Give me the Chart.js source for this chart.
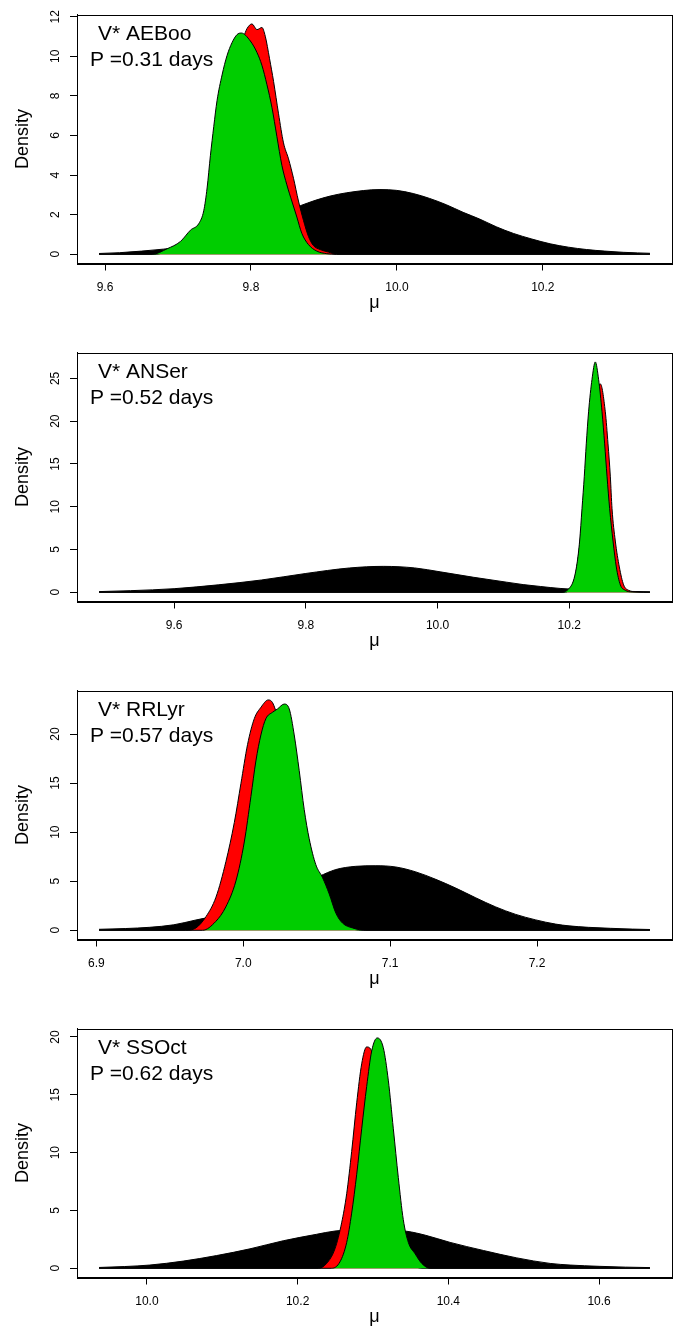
<!DOCTYPE html>
<html>
<head>
<meta charset="utf-8">
<script src="https://cdn.jsdelivr.net/npm/chart.js@4.4.1/dist/chart.umd.min.js"></script>
<style>
html,body{margin:0;padding:0;background:#fff;overflow:hidden}
#wrap{position:relative;width:683px;height:1327px;overflow:hidden}
#wrap canvas{position:absolute;left:0}
</style>
</head>
<body>
<div id="wrap"></div>
<script>
// ---- data: [mu, density] ----
const aeBooBlack=[[9.5918,0.04],[9.62,0.08],[9.65,0.16],[9.68,0.26],[9.70,0.34],[9.72,0.45],[9.75,0.7],[9.78,1.05],[9.81,1.5],[9.84,2.0],[9.8674,2.45],[9.9084,2.94],[9.954,3.22],[9.9768,3.27],[9.9995,3.23],[10.0223,3.07],[10.045,2.82],[10.0679,2.5],[10.0907,2.12],[10.1134,1.78],[10.1362,1.39],[10.16,1.05],[10.185,0.77],[10.21,0.53],[10.235,0.36],[10.26,0.24],[10.285,0.16],[10.31,0.1],[10.33,0.07],[10.3468,0.05]];
const aeBooRed=[[9.5918,0],[9.67,0],[9.69,0.3],[9.71,0.75],[9.725,1.3],[9.74,2.3],[9.75,4],[9.76,6.8],[9.77,9.0],[9.78,10.3],[9.79,11.0],[9.7945,11.4],[9.8014,11.64],[9.8082,11.35],[9.815,11.46],[9.8196,11.02],[9.8255,9.88],[9.831,8.73],[9.8378,7.1],[9.8446,5.63],[9.8515,4.82],[9.8583,3.84],[9.8651,2.69],[9.872,1.71],[9.8788,0.9],[9.8856,0.44],[9.8948,0.24],[9.9062,0.11],[9.9175,0],[10.3468,0]];
const aeBooGreen=[[9.5918,0],[9.6647,0],[9.6852,0.28],[9.7034,0.65],[9.7171,1.22],[9.7285,1.55],[9.7353,2.2],[9.7399,3.35],[9.7444,4.98],[9.749,6.45],[9.7535,7.76],[9.7604,9.06],[9.7672,10.04],[9.774,10.69],[9.7809,11.1],[9.7868,11.18],[9.7991,10.78],[9.8082,10.2],[9.815,9.55],[9.8219,8.57],[9.8287,7.43],[9.8355,5.96],[9.8424,4.49],[9.8492,3.51],[9.856,2.69],[9.8629,1.88],[9.8697,1.06],[9.8788,0.49],[9.8902,0.16],[9.9039,0.03],[9.9175,0],[10.3468,0]];

const anSerBlack=[[9.486,0.08],[9.534,0.19],[9.6,0.42],[9.667,0.87],[9.733,1.44],[9.80,2.2],[9.866,2.84],[9.918,3.03],[9.965,2.85],[10.004,2.39],[10.055,1.75],[10.105,1.18],[10.13,0.9],[10.156,0.68],[10.186,0.45],[10.215,0.32],[10.245,0.21],[10.275,0.13],[10.3,0.09],[10.3225,0.06]];
const anSerRed=[[9.486,0],[10.192,0],[10.20,0.3],[10.21,2.3],[10.22,8.5],[10.23,17],[10.24,22.5],[10.2471,24.36],[10.2547,21.1],[10.2588,17.35],[10.2623,13.57],[10.2649,9.77],[10.2699,5.99],[10.276,2.96],[10.2825,0.87],[10.2901,0.23],[10.303,0.04],[10.3225,0]];
const anSerGreen=[[9.486,0],[10.189,0],[10.199,0.39],[10.2066,1.44],[10.2117,3.34],[10.2157,5.99],[10.2193,9.77],[10.2228,13.57],[10.2258,17.35],[10.2293,21.1],[10.2345,24.9],[10.2395,26.93],[10.2445,24.9],[10.2497,21.1],[10.2537,17.35],[10.2573,13.57],[10.2613,9.77],[10.2664,5.99],[10.2714,2.96],[10.2775,0.87],[10.2851,0.23],[10.2953,0.04],[10.3225,0]];

const rrLyrBlack=[[6.9018,0.1],[6.92,0.18],[6.936,0.3],[6.9527,0.56],[6.9678,1.05],[6.985,1.6],[7.0,2.3],[7.02,3.5],[7.04,4.7],[7.0517,5.5],[7.063,6.19],[7.0766,6.52],[7.0903,6.58],[7.1039,6.45],[7.1175,5.95],[7.1311,5.19],[7.1447,4.3],[7.1583,3.31],[7.1719,2.38],[7.1855,1.62],[7.1991,1.06],[7.2127,0.63],[7.2218,0.45],[7.235,0.3],[7.25,0.2],[7.265,0.12],[7.2769,0.08]];
const rrLyrRed=[[6.9018,0],[6.9607,0],[6.9678,0.24],[6.9746,1.39],[6.9814,3.37],[6.9882,7.01],[6.9939,10.98],[6.9984,14.95],[7.0029,18.92],[7.0075,21.57],[7.012,22.72],[7.017,23.48],[7.0199,23.21],[7.024,21.5],[7.03,19],[7.036,15.5],[7.042,11],[7.048,7],[7.054,4.3],[7.06,2],[7.066,0.6],[7.075,0.1],[7.082,0],[7.2769,0]];
const rrLyrGreen=[[6.9018,0],[6.9723,0],[6.9812,0.89],[6.9881,2.38],[6.995,5.03],[7.0007,9.0],[7.0052,13.63],[7.0086,17.26],[7.012,19.91],[7.0154,21.57],[7.0199,22.22],[7.0233,22.56],[7.0279,23.06],[7.0313,22.56],[7.0347,19.91],[7.0381,16.27],[7.0415,12.3],[7.0449,9.33],[7.0494,6.69],[7.054,5.36],[7.0585,3.71],[7.0631,1.73],[7.0676,0.73],[7.0744,0.24],[7.0835,0],[7.2769,0]];

const ssOctBlack=[[9.9365,0.07],[9.97,0.15],[10.0039,0.28],[10.0481,0.62],[10.0924,1.1],[10.1367,1.68],[10.1809,2.38],[10.2252,2.94],[10.2495,3.22],[10.29,3.35],[10.3448,3.2],[10.37,2.85],[10.4023,2.24],[10.4465,1.54],[10.4908,0.9],[10.5351,0.42],[10.5616,0.28],[10.6,0.17],[10.635,0.1],[10.6675,0.06]];
const ssOctRed=[[9.9365,0],[10.2274,0],[10.2385,0.42],[10.2495,1.68],[10.2584,3.93],[10.2651,6.45],[10.2717,10.1],[10.2784,14.31],[10.285,17.68],[10.2916,19.14],[10.297,18.94],[10.305,16.5],[10.312,12.5],[10.32,8],[10.328,4.5],[10.336,2],[10.345,0.7],[10.355,0.2],[10.365,0],[10.6675,0]];
const ssOctGreen=[[9.9365,0],[10.2451,0],[10.2562,0.56],[10.2651,2.24],[10.2717,4.77],[10.2784,8.13],[10.285,12.06],[10.2916,15.71],[10.2983,18.8],[10.3057,19.92],[10.3137,19.07],[10.3203,16.27],[10.327,12.06],[10.3336,7.85],[10.3402,4.21],[10.3469,2.24],[10.3558,1.26],[10.3647,0.42],[10.3757,0],[10.6675,0]];

const starNames=['V* AEBoo','V* ANSer','V* RRLyr','V* SSOct'];
const periods=['0.31','0.52','0.57','0.62'];
const xTicks=[[9.6,9.8,10.0,10.2],[9.6,9.8,10.0,10.2],[6.9,7.0,7.1,7.2],[10.0,10.2,10.4,10.6]];
const yTicks=[[0,2,4,6,8,10,12],[0,5,10,15,20,25],[0,5,10,15,20],[0,5,10,15,20]];
const seriesSets=[[aeBooGreen,aeBooRed,aeBooBlack],[anSerGreen,anSerRed,anSerBlack],[rrLyrGreen,rrLyrRed,rrLyrBlack],[ssOctGreen,ssOctRed,ssOctBlack]];
const fills=['#00cd00','#ff0000','#000000'];

const FONT='"Liberation Sans", Arial, Helvetica, sans-serif';
Chart.defaults.font.family=FONT;
Chart.defaults.color='#000';

const panelH=338, boxTop=8, axisW=77, axisH=74.5;

const boxAndLabel={
  id:'boxAndLabel',
  afterDatasetsDraw(chart,args,opts){
    const {ctx,chartArea:a}=chart;
    ctx.save();
    ctx.strokeStyle='#000';ctx.lineWidth=1;
    const l=Math.round(a.left),t=Math.round(a.top),r=Math.round(a.right),b=Math.round(a.bottom);
    ctx.strokeRect(l+0.5,t+0.5,r-l,b-t);
    ctx.fillStyle='#000';
    ctx.font='21px '+FONT;
    ctx.textBaseline='alphabetic';
    ctx.fillText(opts.name,a.left+21,a.top+25);
    ctx.fillText('P ='+opts.period+' days',a.left+13,a.top+51);
    ctx.restore();
  }
};

const wrap=document.getElementById('wrap');
seriesSets.forEach((sets,i)=>{
  const cv=document.createElement('canvas');
  cv.width=683;cv.height=panelH;
  cv.style.top=(i*panelH)+'px';
  wrap.appendChild(cv);

  const allX=sets.flat().map(p=>p[0]);
  const xmin=Math.min(...allX),xmax=Math.max(...allX);
  const ymax=Math.max(...sets.flat().map(p=>p[1]));
  const xpad=(xmax-xmin)*0.04, ypad=ymax*0.04;

  new Chart(cv,{
    type:'line',
    data:{datasets:sets.map((s,k)=>({
      data:s.map(p=>({x:p[0],y:p[1]})),
      backgroundColor:fills[k],
      borderColor:'#000',
      borderWidth:1,
      borderJoinStyle:'round',
      fill:'origin',
      pointRadius:0,
      cubicInterpolationMode:'monotone'
    }))},
    options:{
      responsive:false,animation:false,devicePixelRatio:1,
      layout:{padding:{top:boxTop,right:11,left:0,bottom:0}},
      plugins:{legend:{display:false},tooltip:{enabled:false},
        boxAndLabel:{name:starNames[i],period:periods[i]}},
      scales:{
        x:{type:'linear',min:xmin-xpad,max:xmax+xpad,
          afterBuildTicks(sc){sc.ticks=xTicks[i].map(v=>({value:v}));},
          afterFit(sc){sc.height=axisH;},
          grid:{drawOnChartArea:false,drawTicks:true,tickLength:7,color:'#000'},
          border:{display:true,color:'#000'},
          ticks:{font:{size:12},padding:10,maxRotation:0,callback:v=>v.toFixed(1)},
          title:{display:true,text:'\u03bc',font:{size:18},padding:{top:0,bottom:24}}
        },
        y:{type:'linear',min:-ypad,max:ymax+ypad,
          afterBuildTicks(sc){sc.ticks=yTicks[i].map(v=>({value:v}));},
          afterFit(sc){sc.width=axisW;},
          grid:{drawOnChartArea:false,drawTicks:true,tickLength:7,color:'#000'},
          border:{display:true,color:'#000'},
          ticks:{font:{size:12},padding:7.5,minRotation:90,maxRotation:90,crossAlign:'center',callback:v=>String(v)},
          title:{display:true,text:'Density',font:{size:18},padding:{top:12.5,bottom:0}}
        }
      }
    },
    plugins:[boxAndLabel]
  });
});
</script>
</body>
</html>
